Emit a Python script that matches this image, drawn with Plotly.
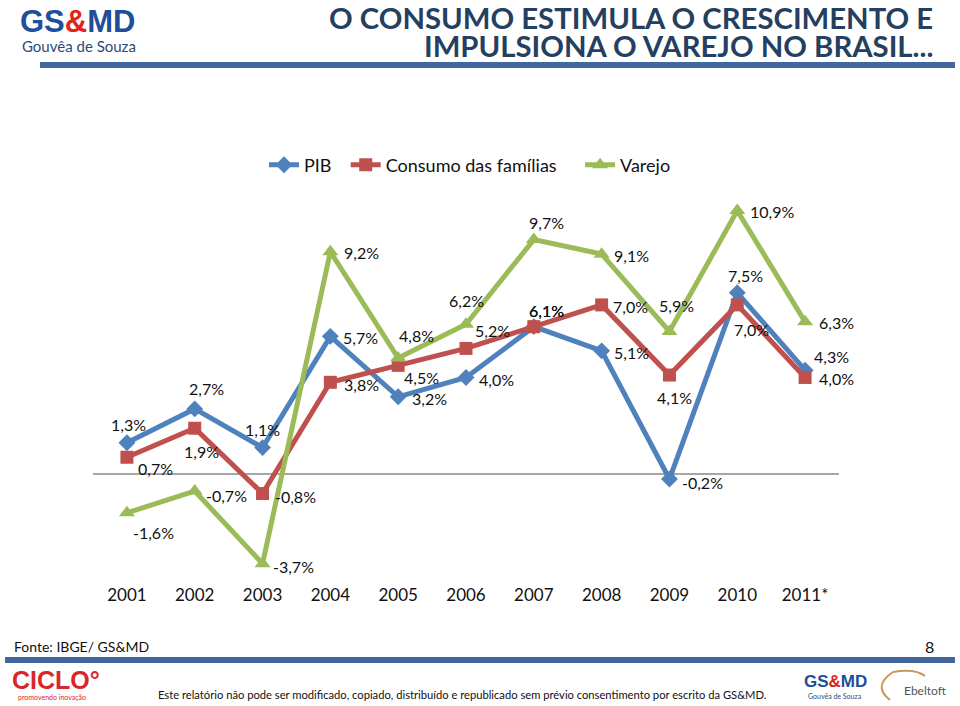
import plotly.graph_objects as go

years = ["2001", "2002", "2003", "2004", "2005", "2006", "2007", "2008", "2009", "2010", "2011*"]
pib = [1.3, 2.7, 1.1, 5.7, 3.2, 4.0, 6.1, 5.1, -0.2, 7.5, 4.3]
consumo = [0.7, 1.9, -0.8, 3.8, 4.5, 5.2, 6.1, 7.0, 4.1, 7.0, 4.0]
varejo = [-1.6, -0.7, -3.7, 9.2, 4.8, 6.2, 9.7, 9.1, 5.9, 10.9, 6.3]

# label offsets in pixels (dx right, dy down)
pib_off = [(2, -18), (12, -20), (0, -18), (30, 1), (31, 2), (30, 2), (13, -16), (30, 2), (33, 3), (8, -17), (26, -14)]
cons_off = [(29, 11), (7, 23), (33, 3), (31, 2), (23, 12), (26, -18), (13, -16), (29, 2), (5, 22), (14, 25), (31, 1)]
var_off = [(27, 20), (32, 4), (31, 3), (31, 1), (18, -23), (0, -24), (13, -17), (30, 1), (7, -26), (35, 1), (31, 1)]

BLUE = "#4F81BD"
RED = "#C0504D"
GREEN = "#9BBB59"
FONT = "Lato"
NB = "\u00a0"

L, R, T, B = 93, 121, 184, 123
W, H = 960, 706
pw, ph = W - L - R, H - T - B


def px(x):
    return (x - L) / pw


def py(y):
    return (H - B - y) / ph


fig = go.Figure()
fig.add_trace(go.Scatter(x=years, y=pib, name="PIB" + NB * 2, mode="lines+markers",
                         line=dict(color=BLUE, width=5),
                         marker=dict(symbol="diamond", size=13, color=BLUE)))
fig.add_trace(go.Scatter(x=years, y=consumo, name="Consumo das famílias" + NB * 4, mode="lines+markers",
                         line=dict(color=RED, width=5),
                         marker=dict(symbol="square", size=13, color=RED)))
fig.add_trace(go.Scatter(x=years, y=varejo, name="Varejo", mode="lines+markers",
                         line=dict(color=GREEN, width=5),
                         marker=dict(symbol="triangle-up", size=14, color=GREEN)))


def fmt(v):
    return f"{v:.1f}".replace(".", ",") + "%"


annotations = []
for vals, offs in ((pib, pib_off), (consumo, cons_off), (varejo, var_off)):
    for i, (v, (dx, dy)) in enumerate(zip(vals, offs)):
        annotations.append(dict(x=i, y=v, xref="x", yref="y", text=fmt(v), showarrow=False,
                                xshift=dx, yshift=-dy, font=dict(family=FONT, size=16, color="#111111")))

annotations += [
    dict(x=px(935), y=py(17), xref="paper", yref="paper", xanchor="right", yanchor="middle",
         text="<b>O CONSUMO ESTIMULA O CRESCIMENTO E</b>", showarrow=False,
         font=dict(family=FONT, size=29.3, color="#243F60")),
    dict(x=px(935), y=py(46), xref="paper", yref="paper", xanchor="right", yanchor="middle",
         text="<b>IMPULSIONA O VAREJO NO BRASIL...</b>", showarrow=False,
         font=dict(family=FONT, size=29.3, color="#243F60")),
    dict(x=px(18), y=py(21), xref="paper", yref="paper", xanchor="left", yanchor="middle",
         text="<b><span style='color:#1F4E9A'>GS</span><span style='color:#E2231A'>&</span><span style='color:#1F4E9A'>MD</span></b>",
         showarrow=False, font=dict(family="Liberation Sans", size=31)),
    dict(x=px(20), y=py(46), xref="paper", yref="paper", xanchor="left", yanchor="middle",
         text="Gouvêa de Souza", showarrow=False, font=dict(family=FONT, size=15, color="#2B4A7A")),
    dict(x=px(12), y=py(646), xref="paper", yref="paper", xanchor="left", yanchor="middle",
         text="Fonte: IBGE/ GS&MD", showarrow=False, font=dict(family=FONT, size=14, color="#111111")),
    dict(x=px(936), y=py(646), xref="paper", yref="paper", xanchor="right", yanchor="middle",
         text="8", showarrow=False, font=dict(family=FONT, size=16, color="#111111")),
    dict(x=px(10), y=py(680), xref="paper", yref="paper", xanchor="left", yanchor="middle",
         text="<b>CICLO°</b>", showarrow=False, font=dict(family="Liberation Sans", size=25, color="#D9262E")),
    dict(x=px(16), y=py(697), xref="paper", yref="paper", xanchor="left", yanchor="middle",
         text="promovendo inovação", showarrow=False, font=dict(family=FONT, size=7, color="#D9262E")),
    dict(x=px(462), y=py(694), xref="paper", yref="paper", xanchor="center", yanchor="middle",
         text="Este relatório não pode ser modificado, copiado, distribuído e republicado sem prévio consentimento por escrito da GS&MD.",
         showarrow=False, font=dict(family=FONT, size=11.2, color="#111111")),
    dict(x=px(835), y=py(681), xref="paper", yref="paper", xanchor="center", yanchor="middle",
         text="<b><span style='color:#1F4E9A'>GS</span><span style='color:#E2231A'>&</span><span style='color:#1F4E9A'>MD</span></b>",
         showarrow=False, font=dict(family="Liberation Sans", size=17)),
    dict(x=px(835), y=py(696), xref="paper", yref="paper", xanchor="center", yanchor="middle",
         text="Gouvêa de Souza", showarrow=False, font=dict(family=FONT, size=7, color="#2B4A7A")),
    dict(x=px(925), y=py(690), xref="paper", yref="paper", xanchor="center", yanchor="middle",
         text="Ebeltoft", showarrow=False, font=dict(family=FONT, size=12, color="#555555")),
]

shapes = [
    dict(type="rect", xref="paper", yref="paper", x0=px(40), x1=px(955), y0=py(62), y1=py(68),
         fillcolor="#41679E", line=dict(width=0)),
    dict(type="rect", xref="paper", yref="paper", x0=px(5), x1=px(955), y0=py(657), y1=py(663),
         fillcolor="#41679E", line=dict(width=0)),
    dict(type="path", xref="paper", yref="paper",
         path=f"M {px(893)},{py(672)} Q {px(872)},{py(686)} {px(890)},{py(700)}",
         line=dict(color="#C89A5A", width=2)),
    dict(type="path", xref="paper", yref="paper",
         path=f"M {px(893)},{py(672)} Q {px(915)},{py(668)} {px(925)},{py(676)}",
         line=dict(color="#C89A5A", width=2)),
]

fig.update_layout(
    width=W, height=H,
    margin=dict(l=L, r=R, t=T, b=B, autoexpand=False),
    paper_bgcolor="white", plot_bgcolor="white",
    font=dict(family=FONT, color="#111111"),
    showlegend=True,
    legend=dict(orientation="h", x=px(470), xanchor="center", y=py(165), yanchor="middle",
                font=dict(family=FONT, size=18, color="#111111"), bgcolor="rgba(0,0,0,0)"),
    xaxis=dict(type="category", range=[-0.5, 10.5], showgrid=False, showline=False, zeroline=False,
               ticks="", tickfont=dict(family=FONT, size=17, color="#111111")),
    yaxis=dict(range=[-4.5, 12], showgrid=False, showline=False, zeroline=True,
               zerolinecolor="#A6A6A6", zerolinewidth=1.5, showticklabels=False, ticks=""),
    annotations=annotations,
    shapes=shapes,
)

fig.write_html("out.html", config={"displayModeBar": False},
               post_script="document.body.style.margin='0';document.body.style.overflow='hidden';")
